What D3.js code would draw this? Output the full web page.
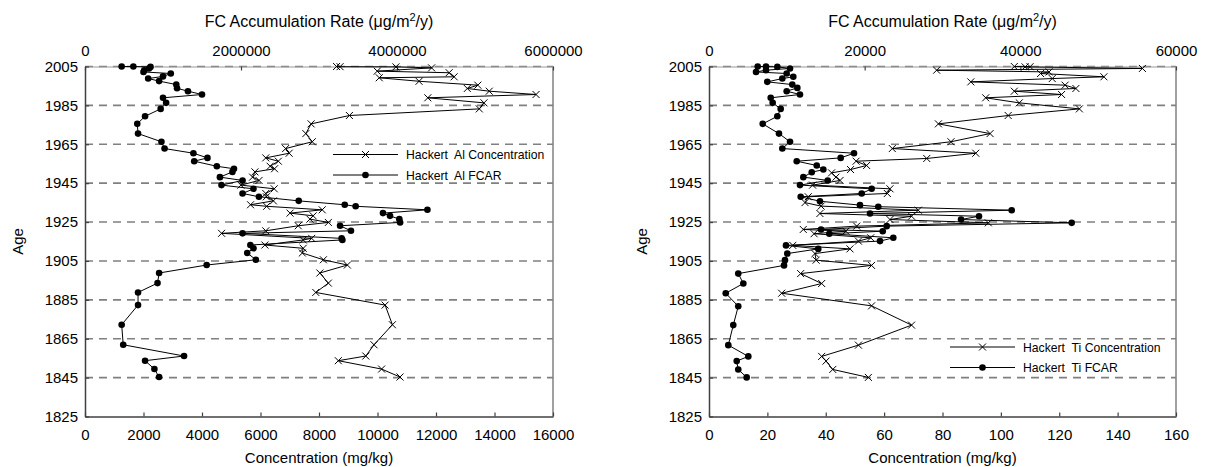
<!DOCTYPE html>
<html>
<head>
<meta charset="utf-8">
<script src="https://cdn.jsdelivr.net/npm/d3@7"></script>
<style>
  body { margin: 0; background: #fff; }
  text { font-family: "Liberation Sans", Arial, sans-serif; fill: #000; }
</style>
</head>
<body>
<div class="canvas"></div>
<script>
// ---- data ----
const ageTicks = d3.range(1825, 2006, 20);

const alConcAge = [2005.0, 2004.9, 2004.8, 2004.3, 2002.6, 2001.8, 1999.7, 1999.2, 1997.4, 1995.4,
  1993.7, 1992.3, 1990.6, 1988.9, 1986.3, 1983.2, 1979.8, 1975.5, 1970.5, 1966.3,
  1962.8, 1960.4, 1958.0, 1956.3, 1953.7, 1952.4, 1950.8, 1948.1, 1946.4, 1944.0,
  1942.1, 1939.7, 1938.0, 1935.9, 1933.9, 1933.1, 1931.3, 1929.6, 1928.2, 1926.5,
  1924.8, 1923.1, 1920.5, 1919.2, 1916.6, 1915.8, 1913.2, 1911.5, 1909.1, 1905.6,
  1902.9, 1898.8, 1893.6, 1888.8, 1882.3, 1872.2, 1861.9, 1856.1, 1853.7, 1849.4, 1845.3];
const alConc = [8600, 8720, 10630, 11850, 9990, 12450, 12620, 10060, 11420, 13430,
  13070, 13820, 15420, 11720, 13640, 13480, 9040, 7730, 7550, 7770,
  6860, 6980, 6180, 6610, 6330, 6480, 5810, 5730, 5950, 5330,
  6470, 6180, 6200, 6440, 5660, 6210, 8110, 7010, 7800, 7690,
  8320, 7290, 6180, 4670, 7750, 7460, 6150, 7460, 7430, 8150,
  8970, 8030, 8320, 7890, 10260, 10510, 9880, 9600, 8660, 10140, 10770];

const alFcarAge = [2005.0, 2005.0, 2004.8, 2004.0, 2003.1, 2002.2, 2001.4, 1999.9, 1998.8, 1997.5,
  1995.7, 1993.8, 1992.3, 1990.6, 1988.9, 1986.3, 1983.2, 1979.4, 1975.5, 1970.5,
  1966.3, 1962.8, 1960.4, 1958.0, 1956.3, 1953.7, 1952.4, 1950.8, 1948.1, 1946.4,
  1944.0, 1942.1, 1939.7, 1938.0, 1935.9, 1933.9, 1933.1, 1931.3, 1929.6, 1928.2,
  1926.5, 1924.8, 1923.1, 1920.5, 1919.2, 1916.6, 1915.8, 1913.2, 1911.5, 1909.1,
  1905.6, 1902.9, 1898.8, 1893.6, 1888.8, 1882.3, 1872.2, 1861.9, 1856.1, 1853.7, 1849.4, 1845.3];
const alFcar = [470000, 620000, 840000, 820000, 760000, 750000, 1100000, 1000000, 810000, 950000,
  1170000, 1180000, 1320000, 1500000, 1000000, 1040000, 970000, 770000, 670000, 680000,
  980000, 1020000, 1390000, 1570000, 1400000, 1690000, 1910000, 1890000, 1730000, 2020000,
  1750000, 2160000, 2020000, 2230000, 2740000, 3330000, 3470000, 4390000, 3820000, 3910000,
  4030000, 4040000, 3270000, 3410000, 2020000, 3290000, 3300000, 2120000, 2160000, 2080000,
  2190000, 1560000, 950000, 930000, 680000, 680000, 470000, 490000, 1270000, 770000, 890000, 950000];

const tiConcAge = [2005.0, 2004.9, 2004.8, 2004.0, 2003.1, 2002.2, 2001.4, 1999.7, 1998.8, 1997.1,
  1995.4, 1993.7, 1992.3, 1990.6, 1988.9, 1986.3, 1983.2, 1979.8, 1975.5, 1970.5,
  1966.3, 1962.8, 1960.4, 1957.7, 1956.3, 1954.1, 1952.0, 1950.3, 1948.1, 1946.4,
  1944.0, 1942.1, 1939.7, 1938.0, 1935.0, 1933.2, 1931.1, 1929.4, 1928.0, 1926.3,
  1924.6, 1922.9, 1921.2, 1920.3, 1919.0, 1916.9, 1915.2, 1913.0, 1911.2, 1908.8,
  1905.4, 1902.7, 1898.5, 1893.4, 1888.4, 1881.9, 1872.0, 1861.7, 1855.9, 1853.5, 1849.2, 1845.1];
const tiConc = [104.6, 110.0, 108.3, 148.5, 78.0, 116.5, 113.6, 135.3, 117.6, 89.7,
  122.0, 125.7, 104.6, 120.8, 94.8, 106.3, 126.9, 102.5, 78.6, 96.3,
  82.9, 62.8, 91.4, 74.6, 50.4, 54.0, 48.5, 42.0, 43.5, 44.9,
  35.5, 62.0, 61.1, 34.0, 32.9, 38.4, 71.7, 38.0, 69.4, 62.0,
  95.7, 50.6, 32.3, 46.9, 36.0, 55.4, 51.2, 28.7, 48.3, 36.3,
  36.7, 55.7, 31.4, 38.6, 24.9, 55.7, 69.4, 51.2, 38.6, 40.1, 42.4, 54.6];

const tiFcarAge = [2005.0, 2005.0, 2004.8, 2004.0, 2003.1, 2002.2, 2001.4, 1999.7, 1998.8, 1997.1,
  1995.7, 1994.0, 1992.3, 1990.6, 1988.9, 1986.3, 1983.2, 1979.4, 1975.5, 1970.5,
  1966.3, 1962.8, 1960.4, 1958.0, 1956.3, 1954.1, 1952.0, 1950.6, 1948.1, 1946.4,
  1944.0, 1942.1, 1939.7, 1938.0, 1935.7, 1933.7, 1932.9, 1931.1, 1929.4, 1928.0,
  1926.3, 1924.6, 1922.9, 1921.2, 1920.3, 1919.0, 1916.9, 1915.2, 1913.0, 1911.2,
  1908.8, 1905.4, 1902.7, 1898.5, 1893.4, 1888.4, 1881.7, 1872.0, 1861.7, 1855.9, 1853.5, 1849.2, 1845.1];
const tiFcar = [6260, 7320, 8780, 10410, 7320, 6040, 9980, 10830, 9420, 7490,
  10700, 11350, 9980, 11690, 7930, 8180, 9210, 8780, 6900, 8990,
  10410, 9420, 18630, 16920, 11270, 13840, 14690, 13200, 12120, 15250,
  11690, 20900, 19620, 11780, 14260, 19400, 21750, 38890, 20690, 34690,
  32380, 46600, 22830, 14390, 22320, 15460, 23680, 21970, 9890, 14040,
  10060, 9760, 9640, 3760, 4410, 2150, 3760, 3120, 2480, 5050, 3560, 3760, 4840];

const alConcTicks = d3.range(0, 16001, 2000);
const alFcarTicks = [0, 2000000, 4000000, 6000000];
const tiConcTicks = d3.range(0, 161, 20);
const tiFcarTicks = [0, 20000, 40000, 60000];

const legendLabels = [
  ['Hackert  Al Concentration', 'Hackert  Al FCAR'],
  ['Hackert  Ti Concentration', 'Hackert  Ti FCAR']
];

// ---- layout ----
const dims = { width: 1205, height: 467 };
const yTop = 66.5, yBot = 416.5;

const svg = d3.select('.canvas')
  .append('svg')
  .attr('width', dims.width)
  .attr('height', dims.height);

const y = d3.scaleLinear().domain([1825, 2005]).range([yBot, yTop]);

const panels = [
  { x0: 85, x1: 553, concMax: 16000, fcarMax: 6000000, concTicks: alConcTicks, fcarTicks: alFcarTicks,
    concAge: alConcAge, conc: alConc, fcarAge: alFcarAge, fcar: alFcar,
    legend: legendLabels[0], legX: 333, legY: 154.5 },
  { x0: 709, x1: 1176, concMax: 160, fcarMax: 60000, concTicks: tiConcTicks, fcarTicks: tiFcarTicks,
    concAge: tiConcAge, conc: tiConc, fcarAge: tiFcarAge, fcar: tiFcar,
    legend: legendLabels[1], legX: 950, legY: 347 }
];

const crossPath = 'M-3.5,-3.5L3.5,3.5M-3.5,3.5L3.5,-3.5';
const fmt = d3.format('d');

const drawPanel = (p) => {
  const g = svg.append('g');
  const xc = d3.scaleLinear().domain([0, p.concMax]).range([p.x0, p.x1]);
  const xf = d3.scaleLinear().domain([0, p.fcarMax]).range([p.x0, p.x1]);

  // dashed grid
  g.selectAll('.grid').data(ageTicks.filter(d => d > 1825))
    .enter().append('line')
    .attr('x1', p.x0).attr('x2', p.x1)
    .attr('y1', d => y(d)).attr('y2', d => y(d))
    .attr('stroke', '#808080')
    .attr('stroke-width', 1.6)
    .attr('stroke-dasharray', '8,6');

  // right border
  g.append('line')
    .attr('x1', p.x1).attr('x2', p.x1).attr('y1', yTop).attr('y2', yBot)
    .attr('stroke', '#808080').attr('stroke-width', 1.5);

  // axes
  const bottom = g.append('g')
    .attr('transform', `translate(0,${yBot})`)
    .call(d3.axisBottom(xc).tickValues(p.concTicks).tickFormat(fmt).tickSizeInner(-4).tickSizeOuter(0).tickPadding(13));
  const top = g.append('g')
    .attr('transform', `translate(0,${yTop})`)
    .call(d3.axisTop(xf).tickValues(p.fcarTicks).tickFormat(fmt).tickSizeInner(-4).tickSizeOuter(0).tickPadding(11));
  const left = g.append('g')
    .attr('transform', `translate(${p.x0},0)`)
    .call(d3.axisLeft(y).tickValues(ageTicks).tickFormat(fmt).tickSizeInner(-4).tickSizeOuter(0).tickPadding(7));

  [bottom, top, left].forEach(a => {
    a.select('.domain').attr('stroke', '#404040').attr('stroke-width', 1.5);
    a.selectAll('.tick line').attr('stroke', '#404040').attr('stroke-width', 1.2);
    a.selectAll('.tick text').attr('font-size', 15).attr('font-family', '"Liberation Sans", Arial, sans-serif').attr('fill', '#000');
  });
  top.select('.domain').attr('stroke', '#999').attr('stroke-width', 1);

  // series lines
  const concPts = p.conc.map((v, i) => [xc(v), y(p.concAge[i])]);
  const fcarPts = p.fcar.map((v, i) => [xf(v), y(p.fcarAge[i])]);

  g.append('path')
    .attr('fill', 'none').attr('stroke', '#000').attr('stroke-width', 1)
    .attr('d', d3.line()(concPts));
  g.append('path')
    .attr('fill', 'none').attr('stroke', '#000').attr('stroke-width', 1)
    .attr('d', d3.line()(fcarPts));

  g.selectAll('.cross').data(concPts).enter().append('path')
    .attr('transform', d => `translate(${d[0]},${d[1]})`)
    .attr('d', crossPath)
    .attr('stroke', '#000').attr('stroke-width', 1).attr('fill', 'none');

  g.selectAll('.dot').data(fcarPts).enter().append('circle')
    .attr('cx', d => d[0]).attr('cy', d => d[1])
    .attr('r', 3.3).attr('fill', '#000');

  // legend
  const leg = g.append('g').attr('transform', `translate(${p.legX},${p.legY})`);
  [0, 1].forEach(i => {
    const ly = i * 20.5;
    leg.append('line').attr('x1', 0).attr('x2', 65).attr('y1', ly).attr('y2', ly)
      .attr('stroke', '#000').attr('stroke-width', 1);
    if (i === 0) {
      leg.append('path').attr('transform', `translate(32.5,${ly})`).attr('d', crossPath)
        .attr('stroke', '#000').attr('fill', 'none');
    } else {
      leg.append('circle').attr('cx', 32.5).attr('cy', ly).attr('r', 3.3).attr('fill', '#000');
    }
    leg.append('text')
      .attr('x', 73).attr('y', ly + 4.5)
      .attr('font-size', 12.2)
      .style('white-space', 'pre')
      .text(p.legend[i]);
  });

  // titles
  const cx = (p.x0 + p.x1) / 2;
  const title = g.append('text')
    .attr('x', cx).attr('y', 27)
    .attr('text-anchor', 'middle')
    .attr('font-size', 16);
  title.append('tspan').text('FC Accumulation Rate (\u03BCg/m');
  title.append('tspan').attr('dy', -6).attr('font-size', 11).text('2');
  title.append('tspan').attr('dy', 6).text('/y)');

  g.append('text')
    .attr('x', cx).attr('y', 463)
    .attr('text-anchor', 'middle')
    .attr('font-size', 15)
    .text('Concentration (mg/kg)');

  g.append('text')
    .attr('transform', `translate(${p.x0 - 62},${(yTop + yBot) / 2}) rotate(-90)`)
    .attr('text-anchor', 'middle')
    .attr('font-size', 15)
    .text('Age');
};

panels.forEach(drawPanel);
</script>
</body>
</html>
